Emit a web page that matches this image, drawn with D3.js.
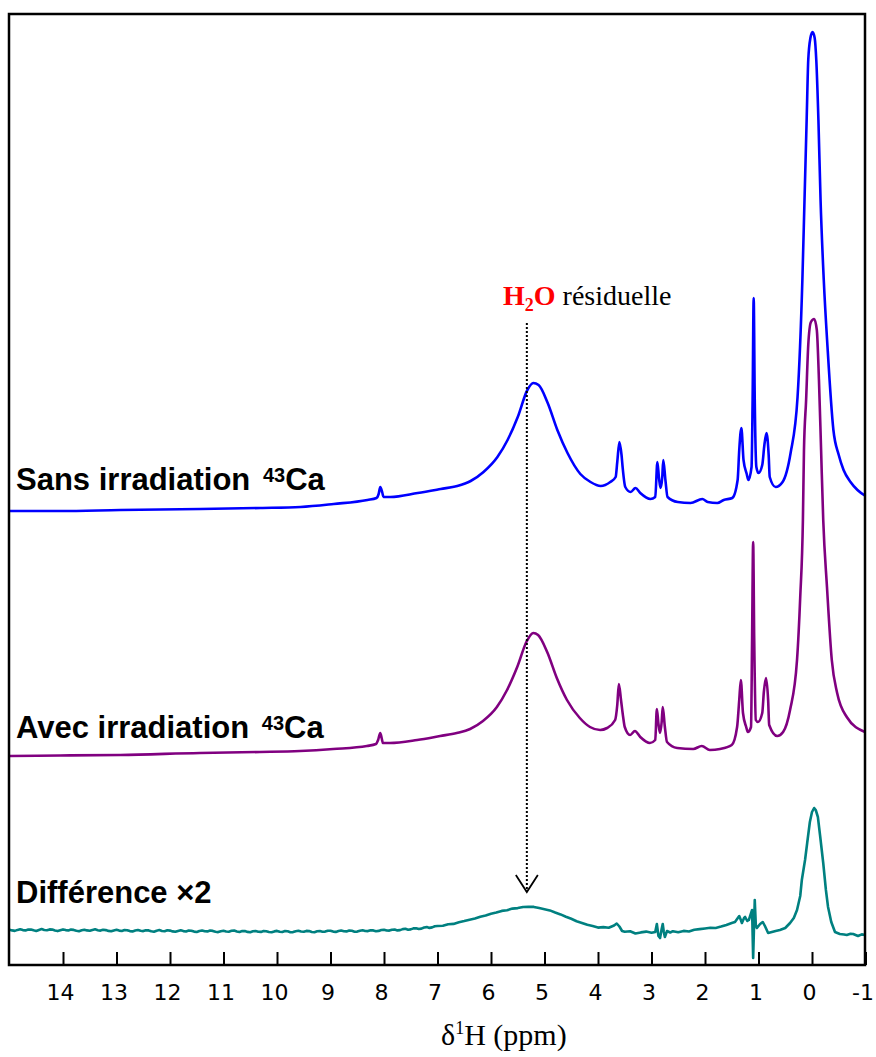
<!DOCTYPE html>
<html><head><meta charset="utf-8">
<script src="https://cdn.jsdelivr.net/npm/d3@7"></script>
<style>body{margin:0;background:#fff}</style>
</head><body><svg id="c" width="876" height="1057"></svg>
<script>
// ---- data (ppm, intensity a.u.) ----
const xTicks = [14,13,12,11,10,9,8,7,6,5,4,3,2,1,0,-1];
const ppmDomain = [15,-1];
const intensityDomain = [0,951];

const sansIrradiation = [[15.0,454],[14.05,454],[12.93,455],[11.43,456],[10.31,457],[9.56,458],[8.94,461],[8.31,465],[8.14,467],[8.10,471],[8.07,478],[8.03,472],[8.01,468],[7.88,468],[7.37,472],[6.94,476],[6.63,479],[6.38,484],[6.14,493],[5.88,508],[5.69,525],[5.50,548],[5.32,575],[5.21,582],[5.11,580],[4.94,562],[4.76,535],[4.57,512],[4.33,491],[4.14,483],[3.95,479],[3.77,483],[3.67,488],[3.64,503],[3.60,523],[3.56,510],[3.54,498],[3.49,478],[3.39,473],[3.30,477],[3.21,472],[3.02,466],[2.93,468],[2.89,503],[2.86,487],[2.83,477],[2.80,487],[2.78,505],[2.74,485],[2.70,468],[2.51,463],[2.27,462],[2.05,466],[1.95,463],[1.77,462],[1.65,465],[1.49,467],[1.39,485],[1.36,515],[1.32,537],[1.28,505],[1.22,491],[1.19,485],[1.13,498],[1.11,565],[1.09,667],[1.07,565],[1.04,498],[1.00,492],[0.93,500],[0.89,520],[0.85,532],[0.81,510],[0.79,488],[0.68,478],[0.55,483],[0.40,512],[0.27,568],[0.18,685],[0.14,765],[0.10,845],[0.07,905],[0.03,927],[-0.01,933],[-0.05,927],[-0.08,905],[-0.12,845],[-0.16,765],[-0.22,685],[-0.29,618],[-0.40,535],[-0.50,510],[-0.59,495],[-0.72,483],[-0.85,475],[-1.00,469]];

const avecIrradiation = [[15.0,209],[14.05,209.5],[12.93,210],[11.44,212],[10.32,213],[9.57,214],[8.95,216],[8.32,219],[8.15,221],[8.11,225],[8.07,232],[8.04,226],[8.02,222],[7.89,222],[7.38,225],[6.95,229],[6.64,232],[6.39,236],[6.15,244],[5.89,258],[5.70,275],[5.51,298],[5.33,324],[5.21,332],[5.12,330],[4.95,313],[4.77,287],[4.58,265],[4.34,247],[4.15,238],[3.96,235],[3.83,237],[3.68,245],[3.64,260],[3.61,281],[3.57,265],[3.53,248],[3.50,238],[3.40,230],[3.31,234],[3.21,228],[3.03,222],[2.93,225],[2.90,256],[2.87,241],[2.84,232],[2.81,243],[2.79,258],[2.75,238],[2.71,223],[2.52,217],[2.22,216],[2.06,219],[1.91,215],[1.72,216],[1.50,220],[1.40,238],[1.36,265],[1.33,285],[1.29,252],[1.23,238],[1.20,233],[1.14,238],[1.12,325],[1.10,423],[1.08,325],[1.05,245],[1.01,243],[0.93,252],[0.90,273],[0.86,287],[0.82,265],[0.80,240],[0.65,229],[0.54,233],[0.41,255],[0.28,305],[0.22,368],[0.17,445],[0.15,515],[0.11,565],[0.07,620],[0.02,643],[-0.04,646],[-0.09,635],[-0.13,585],[-0.17,515],[-0.21,445],[-0.28,378],[-0.37,305],[-0.47,272],[-0.65,248],[-0.99,233]];

const difference = [[15.0,35.2],[14.95,34.6],[14.9,34.1],[14.85,35.1],[14.8,35.8],[14.75,34.9],[14.7,34.6],[14.65,35.4],[14.6,35.5],[14.55,34.7],[14.5,34.0],[14.45,35.0],[14.4,35.9],[14.35,35.0],[14.3,34.8],[14.25,35.6],[14.2,35.4],[14.15,34.5],[14.1,33.9],[14.05,34.8],[14.0,35.6],[13.95,34.9],[13.9,34.5],[13.85,35.4],[13.8,35.1],[13.75,34.3],[13.7,33.8],[13.65,34.7],[13.6,35.3],[13.55,34.6],[13.5,34.2],[13.45,35.1],[13.4,35.7],[13.35,34.8],[13.3,34.4],[13.25,35.3],[13.2,34.9],[13.15,34.1],[13.1,33.7],[13.05,34.6],[13.0,35.2],[12.95,34.4],[12.9,34.0],[12.85,34.9],[12.8,34.8],[12.75,33.9],[12.7,33.6],[12.65,34.5],[12.6,35.0],[12.55,34.2],[12.5,33.9],[12.45,34.8],[12.4,34.6],[12.35,33.7],[12.3,33.3],[12.25,34.3],[12.2,34.9],[12.15,34.0],[12.1,33.8],[12.05,34.7],[12.0,34.4],[11.95,33.6],[11.9,33.2],[11.85,34.1],[11.8,34.7],[11.75,33.9],[11.7,33.5],[11.65,34.4],[11.6,34.3],[11.55,33.4],[11.5,33.0],[11.45,34.0],[11.4,34.5],[11.35,33.7],[11.3,33.6],[11.25,34.5],[11.2,34.1],[11.15,33.2],[11.1,32.9],[11.05,33.8],[11.0,34.2],[10.95,33.5],[10.9,33.3],[10.85,34.2],[10.8,34.4],[10.75,33.5],[10.7,33.0],[10.65,33.9],[10.6,33.9],[10.55,33.1],[10.5,32.8],[10.45,33.7],[10.4,34.0],[10.35,33.2],[10.3,33.1],[10.25,34.0],[10.2,33.8],[10.15,33.0],[10.1,32.7],[10.05,33.6],[10.0,34.1],[9.95,33.3],[9.9,33.0],[9.85,33.9],[9.8,33.7],[9.75,32.8],[9.7,32.9],[9.65,33.8],[9.6,34.2],[9.55,33.5],[9.5,33.2],[9.45,34.1],[9.4,33.9],[9.35,33.0],[9.3,32.8],[9.25,33.7],[9.2,34.0],[9.15,33.2],[9.1,33.4],[9.05,34.3],[9.0,34.3],[8.95,33.4],[8.9,33.1],[8.85,34.0],[8.8,34.5],[8.75,33.8],[8.7,33.6],[8.65,34.5],[8.6,34.2],[8.55,33.3],[8.5,33.4],[8.45,34.3],[8.4,34.8],[8.35,34.0],[8.3,33.9],[8.25,34.8],[8.2,34.6],[8.15,33.8],[8.1,34.1],[8.05,35.0],[8.0,35.3],[7.95,34.5],[7.9,34.4],[7.85,35.3],[7.8,35.4],[7.75,34.6],[7.7,34.9],[7.65,35.9],[7.6,36.2],[7.55,35.3],[7.5,35.6],[7.45,36.6],[7.4,36.8],[7.35,36.0],[7.3,36.4],[7.25,37.5],[7.2,37.9],[7.15,37.1],[7.1,37.6],[7.05,38.7],[7.0,39.0],[6.9,39.2],[6.8,40.8],[6.7,41.1],[6.6,42.7],[6.5,43.9],[6.4,45.3],[6.3,46.4],[6.2,48.2],[6.1,49.5],[6.0,51.3],[5.9,52.4],[5.8,54.1],[5.7,54.8],[5.6,56.4],[5.5,56.9],[5.4,58.0],[5.3,58.3],[5.2,58.1],[5.1,57.0],[5.0,55.8],[4.9,54.6],[4.8,52.5],[4.7,50.6],[4.6,48.3],[4.5,46.2],[4.4,43.8],[4.3,42.1],[4.2,40.2],[4.1,38.9],[4.0,37.4],[3.9,37.9],[3.8,37.2],[3.7,39.5],[3.65,41.5],[3.6,38.5],[3.55,34.0],[3.5,33.2],[3.4,33.8],[3.3,31.5],[3.2,32.6],[3.1,33.4],[3.0,32.2],[2.93,33.0],[2.90,41.0],[2.87,29.0],[2.84,27.0],[2.81,36.0],[2.79,41.0],[2.77,33.0],[2.75,28.0],[2.71,34.0],[2.65,32.5],[2.6,33.8],[2.5,32.7],[2.4,34.1],[2.3,33.5],[2.2,35.2],[2.1,35.9],[2.0,36.5],[1.9,37.2],[1.8,37.0],[1.7,38.4],[1.6,40.1],[1.5,42.0],[1.44,43.0],[1.40,46.0],[1.36,49.0],[1.33,45.0],[1.31,42.0],[1.27,47.0],[1.25,48.0],[1.21,44.0],[1.18,45.0],[1.15,50.0],[1.12,55.0],[1.10,7.0],[1.07,65.0],[1.05,40.0],[1.03,37.0],[0.97,41.0],[0.92,43.0],[0.88,39.0],[0.82,32.0],[0.75,33.0],[0.68,34.0],[0.60,35.0],[0.50,37.0],[0.41,42.0],[0.34,47.0],[0.28,55.0],[0.22,69.0],[0.19,85.0],[0.13,105.0],[0.09,122.0],[0.04,143.0],[0.00,153.0],[-0.04,157.0],[-0.07,155.0],[-0.11,148.0],[-0.15,130.0],[-0.21,102.0],[-0.26,75.0],[-0.30,58.0],[-0.36,43.0],[-0.43,33.0],[-0.52,31.0],[-0.60,30.5],[-0.65,30.0],[-0.72,31.2],[-0.77,31.0],[-0.86,29.0],[-0.93,30.6],[-0.99,30.0]];

const seriesLabels = ["Sans irradiation ", "Avec irradiation ", "Différence \u00D72"];
const seriesColors = ["#0000ff", "#800080", "#008080"];
const waterPpm = 5.33;
const waterArrowTop = 642, waterArrowTip = 73;

// ---- drawing ----
const svg = d3.select("#c");
const x = d3.scaleLinear().domain(ppmDomain).range([9.5, 865.5]);
const y = d3.scaleLinear().domain(intensityDomain).range([965, 14]);

const smooth = d3.line().x(d => x(d[0])).y(d => y(d[1])).curve(d3.curveMonotoneX);
const raw = d3.line().x(d => x(d[0])).y(d => y(d[1]));

svg.append("path").datum(sansIrradiation).attr("d", smooth)
  .attr("fill","none").attr("stroke",seriesColors[0]).attr("stroke-width",2.6).attr("stroke-linejoin","round");
svg.append("path").datum(avecIrradiation).attr("d", smooth)
  .attr("fill","none").attr("stroke",seriesColors[1]).attr("stroke-width",2.6).attr("stroke-linejoin","round");
svg.append("path").datum(difference).attr("d", raw)
  .attr("fill","none").attr("stroke",seriesColors[2]).attr("stroke-width",2.6).attr("stroke-linejoin","round");

// axis
const axis = d3.axisBottom(x).tickValues(xTicks).tickSize(-13).tickPadding(19).tickFormat(d => String(d));
const ax = svg.append("g").attr("transform","translate(0,965)").call(axis);
ax.select(".domain").remove();
ax.selectAll(".tick line").attr("stroke","#000").attr("stroke-width",2);
ax.selectAll(".tick text").attr("font-family","'DejaVu Sans', sans-serif").attr("font-size",22).attr("fill","#000").attr("dx",-3);

// frame
svg.append("rect").attr("x",9).attr("y",14).attr("width",856).attr("height",951)
  .attr("fill","none").attr("stroke","#000").attr("stroke-width",2.5);

// series labels
const labelPos = [490, 738, 903];
labelPos.forEach((by, i) => {
  const t = svg.append("text").attr("x",16).attr("y",by)
    .attr("font-family","'Liberation Sans', Arial, sans-serif").attr("font-weight","bold").attr("font-size",31).attr("fill","#000");
  t.append("tspan").text(seriesLabels[i]);
  if (i < 2) {
    t.append("tspan").attr("font-size",20).attr("dx",4).attr("dy",-8).text("43");
    t.append("tspan").attr("dy",8).text("Ca");
  }
});

// water annotation
const wx = x(waterPpm);
svg.append("line").attr("x1",wx).attr("x2",wx).attr("y1",y(waterArrowTop)).attr("y2",y(waterArrowTip))
  .attr("stroke","#000").attr("stroke-width",2).attr("stroke-dasharray","2,2");
svg.append("path").attr("d",`M${wx-11},${y(waterArrowTip)-17}L${wx},${y(waterArrowTip)}L${wx+11},${y(waterArrowTip)-17}`)
  .attr("fill","none").attr("stroke","#000").attr("stroke-width",1.8);
const wt = svg.append("text").attr("x",503).attr("y",305).attr("font-family","'Liberation Serif', 'Times New Roman', serif").attr("font-size",28);
wt.append("tspan").attr("fill","#ff0000").attr("font-weight","bold").text("H");
wt.append("tspan").attr("fill","#ff0000").attr("font-weight","bold").attr("font-size",18).attr("dy",6).text("2");
wt.append("tspan").attr("fill","#ff0000").attr("font-weight","bold").attr("dy",-6).text("O");
wt.append("tspan").attr("fill","#000").text(" résiduelle");

// axis title
const at = svg.append("text").attr("x",441).attr("y",1045).attr("font-family","'Liberation Serif', 'Times New Roman', serif").attr("font-size",30).attr("fill","#000");
at.append("tspan").text("δ");
at.append("tspan").attr("font-size",18).attr("dy",-11).text("1");
at.append("tspan").attr("dy",11).text("H (ppm)");
</script></body></html>
